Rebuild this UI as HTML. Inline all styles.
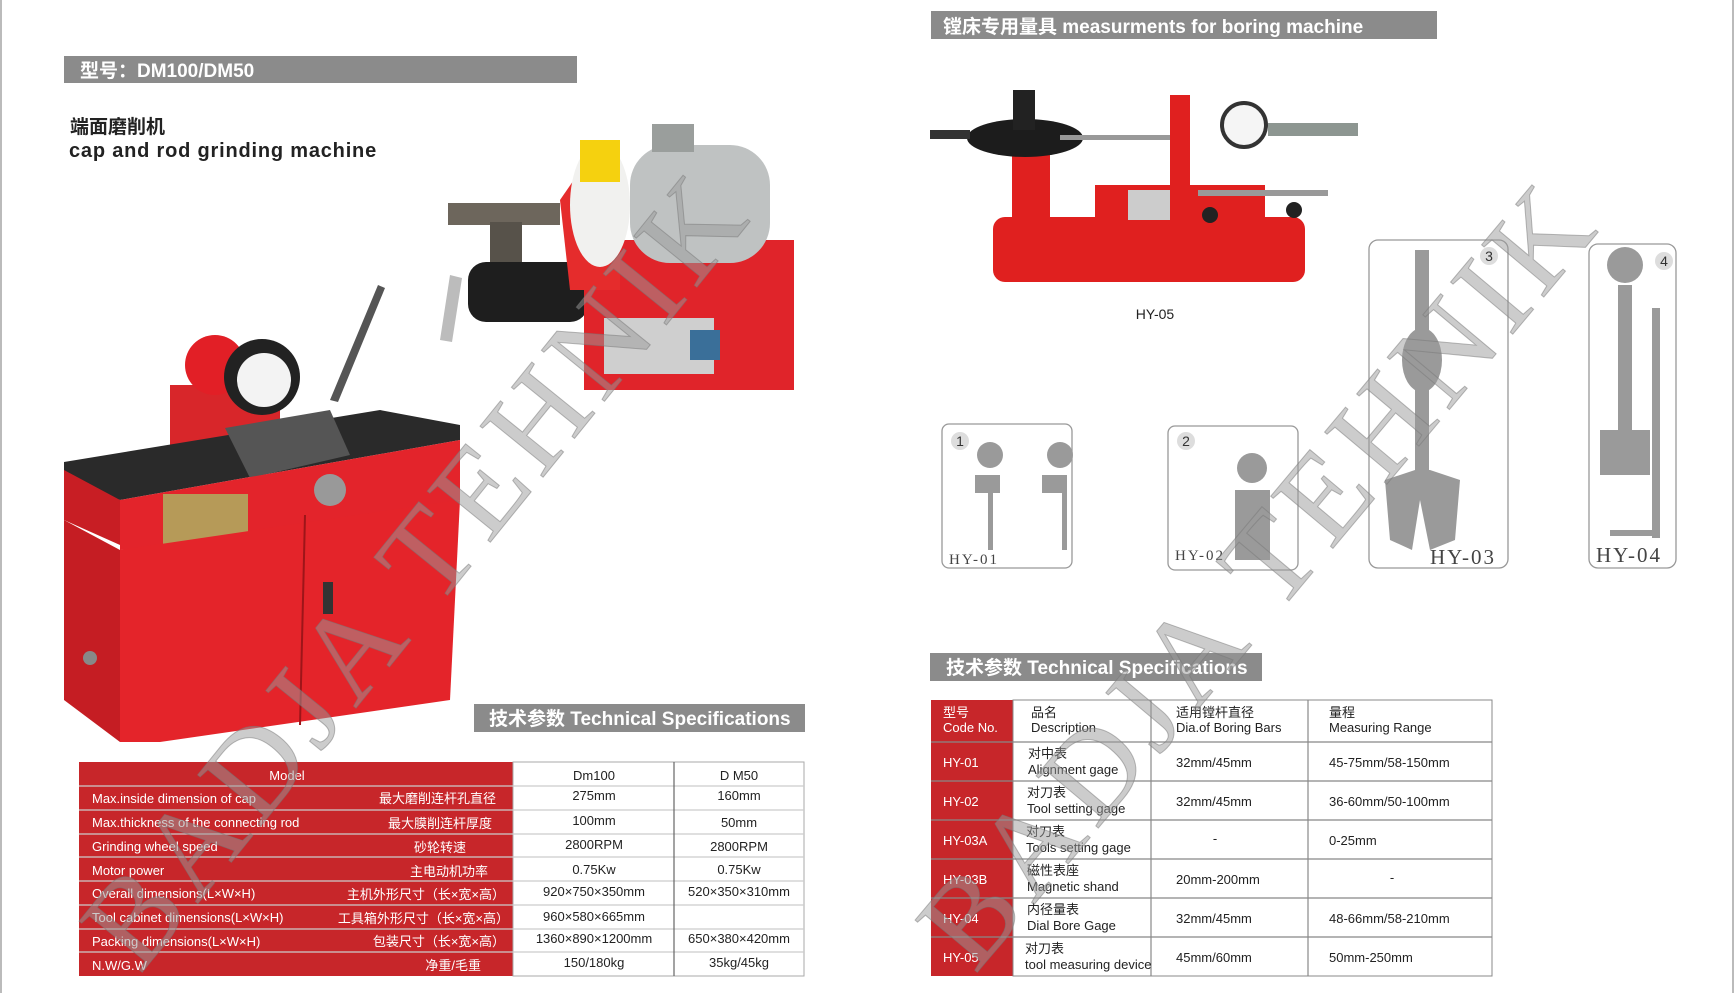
<!DOCTYPE html>
<html><head><meta charset="utf-8"><style>
html,body{margin:0;padding:0;background:#fff;}
svg{display:block;}
text{font-family:"Liberation Sans","Noto Sans CJK SC",sans-serif;}
.bar{fill:#8b8b8b;}
.bt{fill:#fff;font-weight:bold;font-size:19px;}
.w{fill:#fff;font-size:13px;}
.k{fill:#222;font-size:13px;}
</style></head><body>
<svg width="1736" height="993" viewBox="0 0 1736 993" xmlns="http://www.w3.org/2000/svg">
<rect width="1736" height="993" fill="#fff"/>
<line x1="1" y1="0" x2="1" y2="993" stroke="#bbb" stroke-width="2"/>
<line x1="1733" y1="0" x2="1733" y2="993" stroke="#bbb" stroke-width="2"/>

<rect class="bar" x="64" y="56" width="513" height="27"/>
<text class="bt" x="80" y="77">型号：DM100/DM50</text>
<text x="70" y="133" font-size="19" font-weight="bold" fill="#222">端面磨削机</text>
<text x="69" y="157" font-size="20" font-weight="bold" fill="#222" letter-spacing="0.8">cap and rod grinding machine</text>

<g>
<rect x="448" y="203" width="112" height="22" fill="#6d665c"/>
<rect x="490" y="222" width="32" height="80" fill="#57524a"/>
<rect x="468" y="262" width="120" height="60" rx="18" fill="#1e1e1e"/>
<polygon points="440,340 450,275 462,278 452,342" fill="#bcbcbc"/>
<rect x="584" y="240" width="210" height="150" fill="#e0242a"/>
<polygon points="560,200 600,142 620,142 620,290 570,290" fill="#e52c2c"/>
<ellipse cx="600" cy="205" rx="30" ry="62" fill="#f1f1ef"/>
<rect x="630" y="145" width="140" height="118" rx="40" fill="#bfc2c2"/>
<rect x="652" y="124" width="42" height="28" fill="#9a9e9c"/>
<rect x="604" y="318" width="110" height="56" fill="#cfcfcf"/>
<rect x="690" y="330" width="30" height="30" fill="#3a6f99"/>
<rect x="580" y="140" width="40" height="42" fill="#f5d10f"/>
</g>

<g>
<rect x="170" y="385" width="110" height="70" fill="#d8262a"/>
<circle cx="215" cy="365" r="30" fill="#e21f26"/>
<circle cx="262" cy="377" r="38" fill="#222"/>
<circle cx="264" cy="380" r="27" fill="#f3f3f3"/>
<polygon points="330,400 378,285 385,288 338,402" fill="#555"/>
<polygon points="64,462 380,410 460,425 460,440 120,500 64,480" fill="#2a2a2a"/>
<polygon points="225,428 330,410 350,455 250,478" fill="#555"/>
<polygon points="64,470 120,500 120,545 64,520" fill="#c81e24"/>
<polygon points="120,500 460,440 460,500 235,545 120,550" fill="#e3242b"/>
<rect x="163" y="494" width="85" height="56" fill="#b69a58"/>
<circle cx="330" cy="490" r="16" fill="#999"/>
<polygon points="120,550 460,500 450,700 160,742 120,742" fill="#e4242a"/>
<polygon points="64,520 120,550 120,742 64,700" fill="#c51d23"/>
<line x1="305" y1="515" x2="300" y2="725" stroke="#9e1519" stroke-width="2"/>
<rect x="323" y="582" width="10" height="32" fill="#333"/>
<circle cx="90" cy="658" r="7" fill="#888"/>
</g>
<rect class="bar" x="474" y="704" width="331" height="28"/>
<text class="bt" x="489" y="725" font-size="18">技术参数 Technical Specifications</text>

<rect x="79" y="762" width="434" height="214" fill="#c7262a"/>
<rect x="513" y="762" width="291" height="214" fill="#fff" stroke="#aaa"/>
<g stroke="#ccc" stroke-width="1.2">
<line x1="79" y1="786" x2="804" y2="786"/><line x1="79" y1="810" x2="804" y2="810"/>
<line x1="79" y1="834" x2="804" y2="834"/><line x1="79" y1="857" x2="804" y2="857"/>
<line x1="79" y1="881" x2="804" y2="881"/><line x1="79" y1="905" x2="804" y2="905"/>
<line x1="79" y1="929" x2="804" y2="929"/><line x1="79" y1="952" x2="804" y2="952"/>
<line x1="674" y1="762" x2="674" y2="976" stroke="#666"/>
</g>
<g class="w">
<text x="287" y="780" text-anchor="middle">Model</text>
<text x="92" y="803">Max.inside dimension of cap</text><text x="496" y="803" text-anchor="end">最大磨削连杆孔直径</text>
<text x="92" y="827">Max.thickness of the connecting rod</text><text x="492" y="828" text-anchor="end">最大膜削连杆厚度</text>
<text x="92" y="851">Grinding wheel speed</text><text x="466" y="852" text-anchor="end">砂轮转速</text>
<text x="92" y="875">Motor power</text><text x="488" y="876" text-anchor="end">主电动机功率</text>
<text x="92" y="898">Overall dimensions(L×W×H)</text><text x="505" y="899" text-anchor="end">主机外形尺寸（长×宽×高）</text>
<text x="92" y="922">Tool cabinet dimensions(L×W×H)</text><text x="509" y="923" text-anchor="end">工具箱外形尺寸（长×宽×高）</text>
<text x="92" y="946">Packing dimensions(L×W×H)</text><text x="505" y="946" text-anchor="end">包装尺寸（长×宽×高）</text>
<text x="92" y="970">N.W/G.W</text><text x="481" y="970" text-anchor="end">净重/毛重</text>
</g>
<g class="k" text-anchor="middle">
<text x="594" y="780">Dm100</text><text x="739" y="780">D M50</text>
<text x="594" y="800">275mm</text><text x="739" y="800">160mm</text>
<text x="594" y="825">100mm</text><text x="739" y="827">50mm</text>
<text x="594" y="849">2800RPM</text><text x="739" y="851">2800RPM</text>
<text x="594" y="874">0.75Kw</text><text x="739" y="874">0.75Kw</text>
<text x="594" y="896">920×750×350mm</text><text x="739" y="896">520×350×310mm</text>
<text x="594" y="921">960×580×665mm</text>
<text x="594" y="943">1360×890×1200mm</text><text x="739" y="943">650×380×420mm</text>
<text x="594" y="967">150/180kg</text><text x="739" y="967">35kg/45kg</text>
</g>

<rect class="bar" x="931" y="11" width="506" height="28"/>
<text class="bt" x="943" y="33">镗床专用量具 measurments for boring machine</text>

<!-- HY-05 machine -->
<g>
<rect x="993" y="217" width="312" height="65" rx="12" fill="#e0201f"/>
<rect x="1012" y="150" width="38" height="80" fill="#e0201f"/>
<rect x="1095" y="185" width="170" height="45" fill="#e0201f"/>
<rect x="1170" y="95" width="20" height="125" fill="#e0201f"/>
<rect x="1128" y="190" width="42" height="30" fill="#ccc"/>
<rect x="1198" y="190" width="130" height="6" fill="#999"/>
<ellipse cx="1025" cy="138" rx="58" ry="19" fill="#1c1c1c"/>
<rect x="1013" y="90" width="22" height="40" fill="#222"/>
<rect x="930" y="130" width="40" height="9" fill="#333"/>
<rect x="1060" y="135" width="110" height="5" fill="#999"/>
<circle cx="1244" cy="125" r="22" fill="#f5f5f5" stroke="#333" stroke-width="4"/>
<rect x="1268" y="123" width="90" height="13" fill="#8d9691"/>
<circle cx="1210" cy="215" r="8" fill="#222"/><circle cx="1294" cy="210" r="8" fill="#222"/>
</g>
<text x="1155" y="319" font-size="14" fill="#222" text-anchor="middle">HY-05</text>

<g fill="#fff" stroke="#999" stroke-width="1.3">
<rect x="942" y="424" width="130" height="144" rx="7"/>
<rect x="1168" y="426" width="130" height="144" rx="7"/>
<rect x="1369" y="240" width="139" height="328" rx="9"/>
<rect x="1589" y="244" width="87" height="324" rx="9"/>
</g>
<g fill="#ddd" stroke="none">
<circle cx="960" cy="441" r="9"/><circle cx="1186" cy="441" r="9"/>
<circle cx="1489" cy="256" r="9"/><circle cx="1664" cy="261" r="9"/>
</g>
<g font-size="14" fill="#333" text-anchor="middle">
<text x="960" y="446">1</text><text x="1186" y="446">2</text><text x="1489" y="261">3</text><text x="1664" y="266">4</text>
</g>
<g fill="#9a9a9a">
<circle cx="990" cy="455" r="13"/><circle cx="1060" cy="455" r="13"/>
<rect x="975" y="475" width="25" height="18"/><rect x="1042" y="475" width="25" height="18"/>
<rect x="988" y="490" width="5" height="60"/><rect x="1062" y="490" width="5" height="60"/>
<circle cx="1252" cy="468" r="15"/><rect x="1235" y="490" width="35" height="70"/>
<rect x="1415" y="250" width="14" height="90"/><ellipse cx="1422" cy="360" rx="20" ry="32"/>
<rect x="1415" y="390" width="14" height="80"/><polygon points="1385,480 1415,470 1430,470 1460,480 1455,540 1430,550 1420,500 1412,550 1390,540"/>
<circle cx="1625" cy="265" r="18"/><rect x="1618" y="285" width="14" height="150"/>
<rect x="1600" y="430" width="50" height="45"/><rect x="1652" y="308" width="8" height="230"/>
<rect x="1610" y="530" width="48" height="6"/>
</g>
<g fill="#444">
<text x="949" y="564" font-size="15" letter-spacing="2" style="font-family:'Liberation Serif',serif">HY-01</text>
<text x="1175" y="560" font-size="15" letter-spacing="2" style="font-family:'Liberation Serif',serif">HY-02</text>
<text x="1430" y="564" font-size="21" letter-spacing="2" style="font-family:'Liberation Serif',serif">HY-03</text>
<text x="1596" y="562" font-size="21" letter-spacing="2" style="font-family:'Liberation Serif',serif">HY-04</text>
</g>

<rect class="bar" x="930" y="653" width="332" height="28"/>
<text class="bt" x="946" y="674" font-size="18">技术参数 Technical Specifications</text>

<rect x="931" y="700" width="82" height="276" fill="#c7262a"/>
<rect x="1013" y="700" width="479" height="276" fill="#fff" stroke="#888"/>
<g stroke="#888" stroke-width="1.2">
<line x1="931" y1="742" x2="1492" y2="742"/><line x1="931" y1="781" x2="1492" y2="781"/>
<line x1="931" y1="820" x2="1492" y2="820"/><line x1="931" y1="859" x2="1492" y2="859"/>
<line x1="931" y1="898" x2="1492" y2="898"/><line x1="931" y1="937" x2="1492" y2="937"/>
<line x1="1151" y1="700" x2="1151" y2="976"/><line x1="1308" y1="700" x2="1308" y2="976"/>
</g>
<g class="w">
<text x="943" y="717">型号</text><text x="943" y="732">Code No.</text>
<text x="943" y="767">HY-01</text><text x="943" y="806">HY-02</text><text x="943" y="845">HY-03A</text>
<text x="943" y="884">HY-03B</text><text x="943" y="923">HY-04</text><text x="943" y="962">HY-05</text>
</g>
<g class="k">
<text x="1031" y="717">品名</text><text x="1031" y="732">Description</text>
<text x="1176" y="717">适用镗杆直径</text><text x="1176" y="732">Dia.of Boring Bars</text>
<text x="1329" y="717">量程</text><text x="1329" y="732">Measuring Range</text>
<text x="1028" y="758">对中表</text><text x="1028" y="774">Alignment gage</text>
<text x="1027" y="797">对刀表</text><text x="1027" y="813">Tool setting gage</text>
<text x="1026" y="836">对刀表</text><text x="1026" y="852">Tools setting gage</text>
<text x="1027" y="875">磁性表座</text><text x="1027" y="891">Magnetic shand</text>
<text x="1027" y="914">内径量表</text><text x="1027" y="930">Dial Bore Gage</text>
<text x="1025" y="953">对刀表</text><text x="1025" y="969">tool measuring device</text>
<text x="1176" y="767">32mm/45mm</text><text x="1329" y="767">45-75mm/58-150mm</text>
<text x="1176" y="806">32mm/45mm</text><text x="1329" y="806">36-60mm/50-100mm</text>
<text x="1215" y="843" text-anchor="middle">-</text><text x="1329" y="845">0-25mm</text>
<text x="1176" y="884">20mm-200mm</text><text x="1392" y="882" text-anchor="middle">-</text>
<text x="1176" y="923">32mm/45mm</text><text x="1329" y="923">48-66mm/58-210mm</text>
<text x="1176" y="962">45mm/60mm</text><text x="1329" y="962">50mm-250mm</text>
</g>

<g font-size="124" fill="#9a9a9a" fill-opacity="0.5" stroke="#777" stroke-opacity="0.5" stroke-width="1">
<text transform="translate(140,975) rotate(-51)" letter-spacing="8" style="font-family:'Liberation Serif',serif">BADJA TEHNIK</text>
<text transform="translate(975,975) rotate(-50)" letter-spacing="8" style="font-family:'Liberation Serif',serif">BADJA TEHNIK</text>
</g>
</svg>
</body></html>
